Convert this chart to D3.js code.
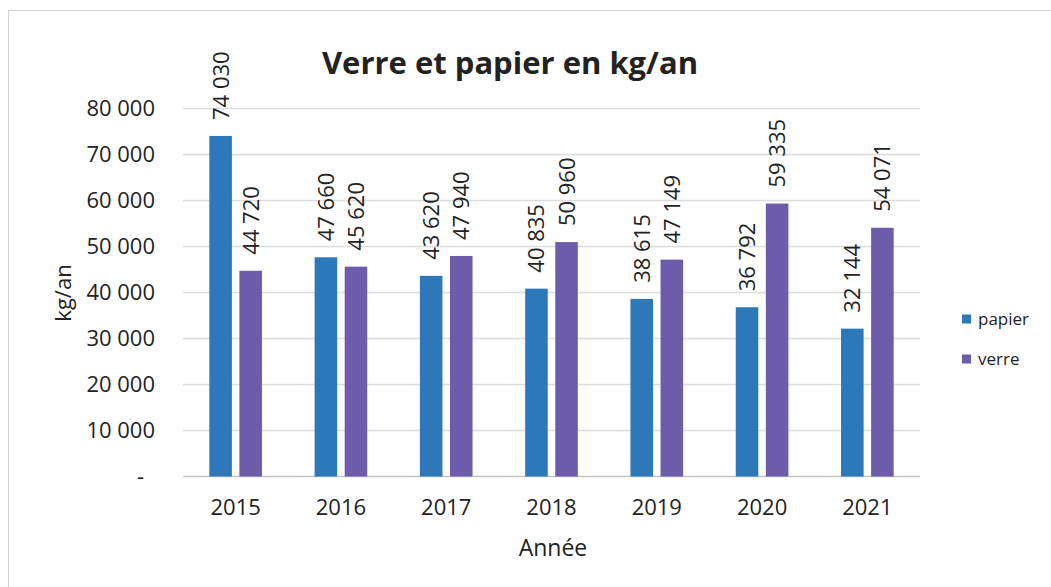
<!DOCTYPE html>
<html>
<head>
<meta charset="utf-8">
<script src="https://cdn.jsdelivr.net/npm/d3@7"></script>
<style>
  body { margin: 0; background: #fff; }
  text { font-family: "Open Sans", "Noto Sans", sans-serif; fill: #222; }
</style>
</head>
<body>
<svg id="chart"></svg>
<script>
var years = ["2015", "2016", "2017", "2018", "2019", "2020", "2021"];
var seriesNames = ["papier", "verre"];
var papier = [74030, 47660, 43620, 40835, 38615, 36792, 32144];
var verre = [44720, 45620, 47940, 50960, 47149, 59335, 54071];
var yTicks = [0, 10000, 20000, 30000, 40000, 50000, 60000, 70000, 80000];
var colors = ["#2c78b8", "#6c5caa"];

var W = 1051, H = 587;
var margin = {top: 108.5, right: 131, bottom: 110.5, left: 183},
    width = W - margin.left - margin.right,
    height = H - margin.top - margin.bottom;

var data = years.map(function(y, i) {
  return {year: y, values: [papier[i], verre[i]]};
});

var svg = d3.select("#chart").attr("width", W).attr("height", H);

// cadre
svg.append("rect")
    .attr("x", 8.5).attr("y", 10.5)
    .attr("width", W).attr("height", H)
    .attr("fill", "none").attr("stroke", "#d0d0d0");

var g = svg.append("g")
    .attr("transform", "translate(" + margin.left + "," + margin.top + ")");

var x0 = d3.scaleBand().domain(years).range([0, width])
    .paddingInner(0.5).paddingOuter(0.25);
var x1 = d3.scaleBand().domain(seriesNames).range([0, x0.bandwidth()])
    .paddingInner(0.25);
var y = d3.scaleLinear().domain([0, 80000]).range([height, 0]);

var fmt = d3.formatLocale({decimal: ",", thousands: " ", grouping: [3], currency: ["", ""]}).format(",d");

// grille
g.selectAll(".grid")
    .data(yTicks)
  .enter().append("line")
    .attr("x1", 0).attr("x2", width)
    .attr("y1", function(d) { return y(d); })
    .attr("y2", function(d) { return y(d); })
    .attr("stroke", function(d) { return d === 0 ? "#c4c4c4" : "#dcdcdc"; })
    .attr("stroke-width", 1.5);

// axe y
var yAxis = d3.axisLeft(y).tickValues(yTicks).tickSize(0).tickPadding(28)
    .tickFormat(function(d) { return d === 0 ? "-" : fmt(d); });
var ya = g.append("g").call(yAxis);
ya.select(".domain").remove();
ya.selectAll("text").style("font-size", "22px").attr("fill", "#222")
    .attr("dx", function(d) { return d === 0 ? "-11" : "0"; });

// axe x
var xAxis = d3.axisBottom(x0).tickSize(0).tickPadding(23);
var xa = g.append("g").attr("transform", "translate(0," + height + ")").call(xAxis);
xa.select(".domain").remove();
xa.selectAll("text").style("font-size", "22px").attr("fill", "#222");

// barres
var groups = g.selectAll(".year")
    .data(data)
  .enter().append("g")
    .attr("transform", function(d) { return "translate(" + x0(d.year) + ",0)"; });

groups.selectAll("rect")
    .data(function(d) { return d.values.map(function(v, i) { return {s: seriesNames[i], i: i, v: v}; }); })
  .enter().append("rect")
    .attr("x", function(d) { return x1(d.s); })
    .attr("width", x1.bandwidth())
    .attr("y", function(d) { return y(d.v); })
    .attr("height", function(d) { return height - y(d.v); })
    .attr("fill", function(d) { return colors[d.i]; });

groups.selectAll(".lbl")
    .data(function(d) { return d.values.map(function(v, i) { return {s: seriesNames[i], v: v}; }); })
  .enter().append("text")
    .attr("transform", function(d) {
      return "translate(" + (x1(d.s) + x1.bandwidth() / 2 + 8) + "," + (y(d.v) - 16) + ") rotate(-90)";
    })
    .style("font-size", "22px")
    .text(function(d) { return fmt(d.v); });

// titre
svg.append("text")
    .attr("x", 510).attr("y", 74)
    .attr("text-anchor", "middle")
    .style("font-size", "31px").style("font-weight", "bold")
    .text("Verre et papier en kg/an");

// titres des axes
svg.append("text")
    .attr("transform", "translate(71,293) rotate(-90)")
    .attr("text-anchor", "middle")
    .style("font-size", "22px")
    .text("kg/an");

svg.append("text")
    .attr("x", 553).attr("y", 556)
    .attr("text-anchor", "middle")
    .style("font-size", "23px")
    .text("Année");

// légende
var legend = svg.selectAll(".legend")
    .data(seriesNames)
  .enter().append("g")
    .attr("transform", function(d, i) { return "translate(962," + (319 + i * 40) + ")"; });

legend.append("rect")
    .attr("x", 0).attr("y", -4.5)
    .attr("width", 9).attr("height", 9)
    .attr("fill", function(d, i) { return colors[i]; });

legend.append("text")
    .attr("x", 16).attr("y", 6)
    .style("font-size", "17px")
    .text(function(d) { return d; });
</script>
</body>
</html>
